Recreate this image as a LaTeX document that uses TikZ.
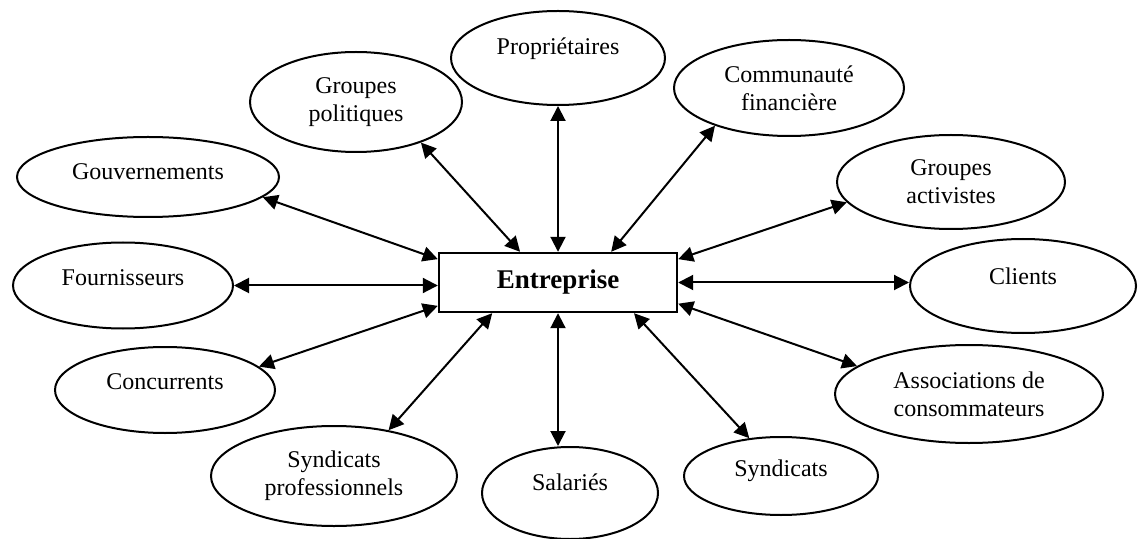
\documentclass[tikz,border=0pt]{standalone}
\usepackage{fontspec}
\setmainfont{Liberation Serif}
\usepackage{tikz}
\usetikzlibrary{%
  shapes.geometric,%
  arrows.meta%
  }

\tikzset{
  acteur/.style={ellipse,draw,line width=1pt,inner sep=1pt,align=center,
    font=\fontsize{12}{14}\selectfont},
  firme/.style={rectangle,draw,line width=1.2pt,minimum width=119pt,minimum height=29.5pt,
    font=\fontsize{13.5}{16}\selectfont\bfseries},
  lien/.style={line width=1pt,{Triangle[length=7.5pt,width=7.5pt]}-{Triangle[length=7.5pt,width=7.5pt]}}
}

\begin{document}
\begin{tikzpicture}[x=0.5pt,y=-0.5pt]
    \useasboundingbox (0,0) rectangle (1138,539);
    % l'entreprise au centre
    \node[firme] (ent) at (558,282.5) {Entreprise};
    % les parties prenantes
    \node[acteur,minimum width=107pt,minimum height=47pt,text depth=11.6pt] (prop) at (558,58) {Propriétaires};
    \node[acteur,minimum width=106pt,minimum height=50pt] (gpol) at (356,102) {Groupes\\politiques};
    \node[acteur,minimum width=115pt,minimum height=48pt] (cfin) at (789,88) {Communauté\\financière};
    \node[acteur,minimum width=131pt,minimum height=40pt,text depth=5pt] (gouv) at (148,177) {Gouvernements};
    \node[acteur,minimum width=114pt,minimum height=47pt] (gact) at (951,182) {Groupes\\activistes};
    \node[acteur,minimum width=110pt,minimum height=43pt,text depth=8pt] (four) at (123,285.5) {Fournisseurs};
    \node[acteur,minimum width=113pt,minimum height=47pt,text depth=10pt] (cli) at (1023,286) {Clients};
    \node[acteur,minimum width=110pt,minimum height=43pt,text depth=8pt] (conc) at (165,390) {Concurrents};
    \node[acteur,minimum width=134pt,minimum height=49pt] (asso) at (969,394) {Associations de\\consommateurs};
    \node[acteur,minimum width=123pt,minimum height=50pt] (spro) at (334,476) {Syndicats\\professionnels};
    \node[acteur,minimum width=88pt,minimum height=46pt,text depth=11pt] (sal) at (570,493) {Salariés};
    \node[acteur,minimum width=97pt,minimum height=39pt,text depth=7.6pt] (synd) at (781,476) {Syndicats};
    % les liens
    \draw[lien] (prop.south) -- (ent.north);
    \draw[lien] (gpol.-32) -- (ent.141);
    \draw[lien] (cfin.207) -- (ent.30);
    \draw[lien] (gouv.-10) -- (ent.169);
    \draw[lien] (gact.191) -- (ent.11);
    \draw[lien] (four.east) -- (four.east -| ent.west);
    \draw[lien] (ent.east) -- (ent.east -| cli.west);
    \draw[lien] (conc.14) -- (ent.191);
    \draw[lien] (asso.166) -- (ent.-10);
    \draw[lien] (spro.40) -- (ent.205);
    \draw[lien] (ent.south) -- (ent.south |- sal.north);
    \draw[lien] (synd.130) -- (ent.-22);
  %  \draw[lien] (ent) -- (cli);
\end{tikzpicture}
\end{document}
